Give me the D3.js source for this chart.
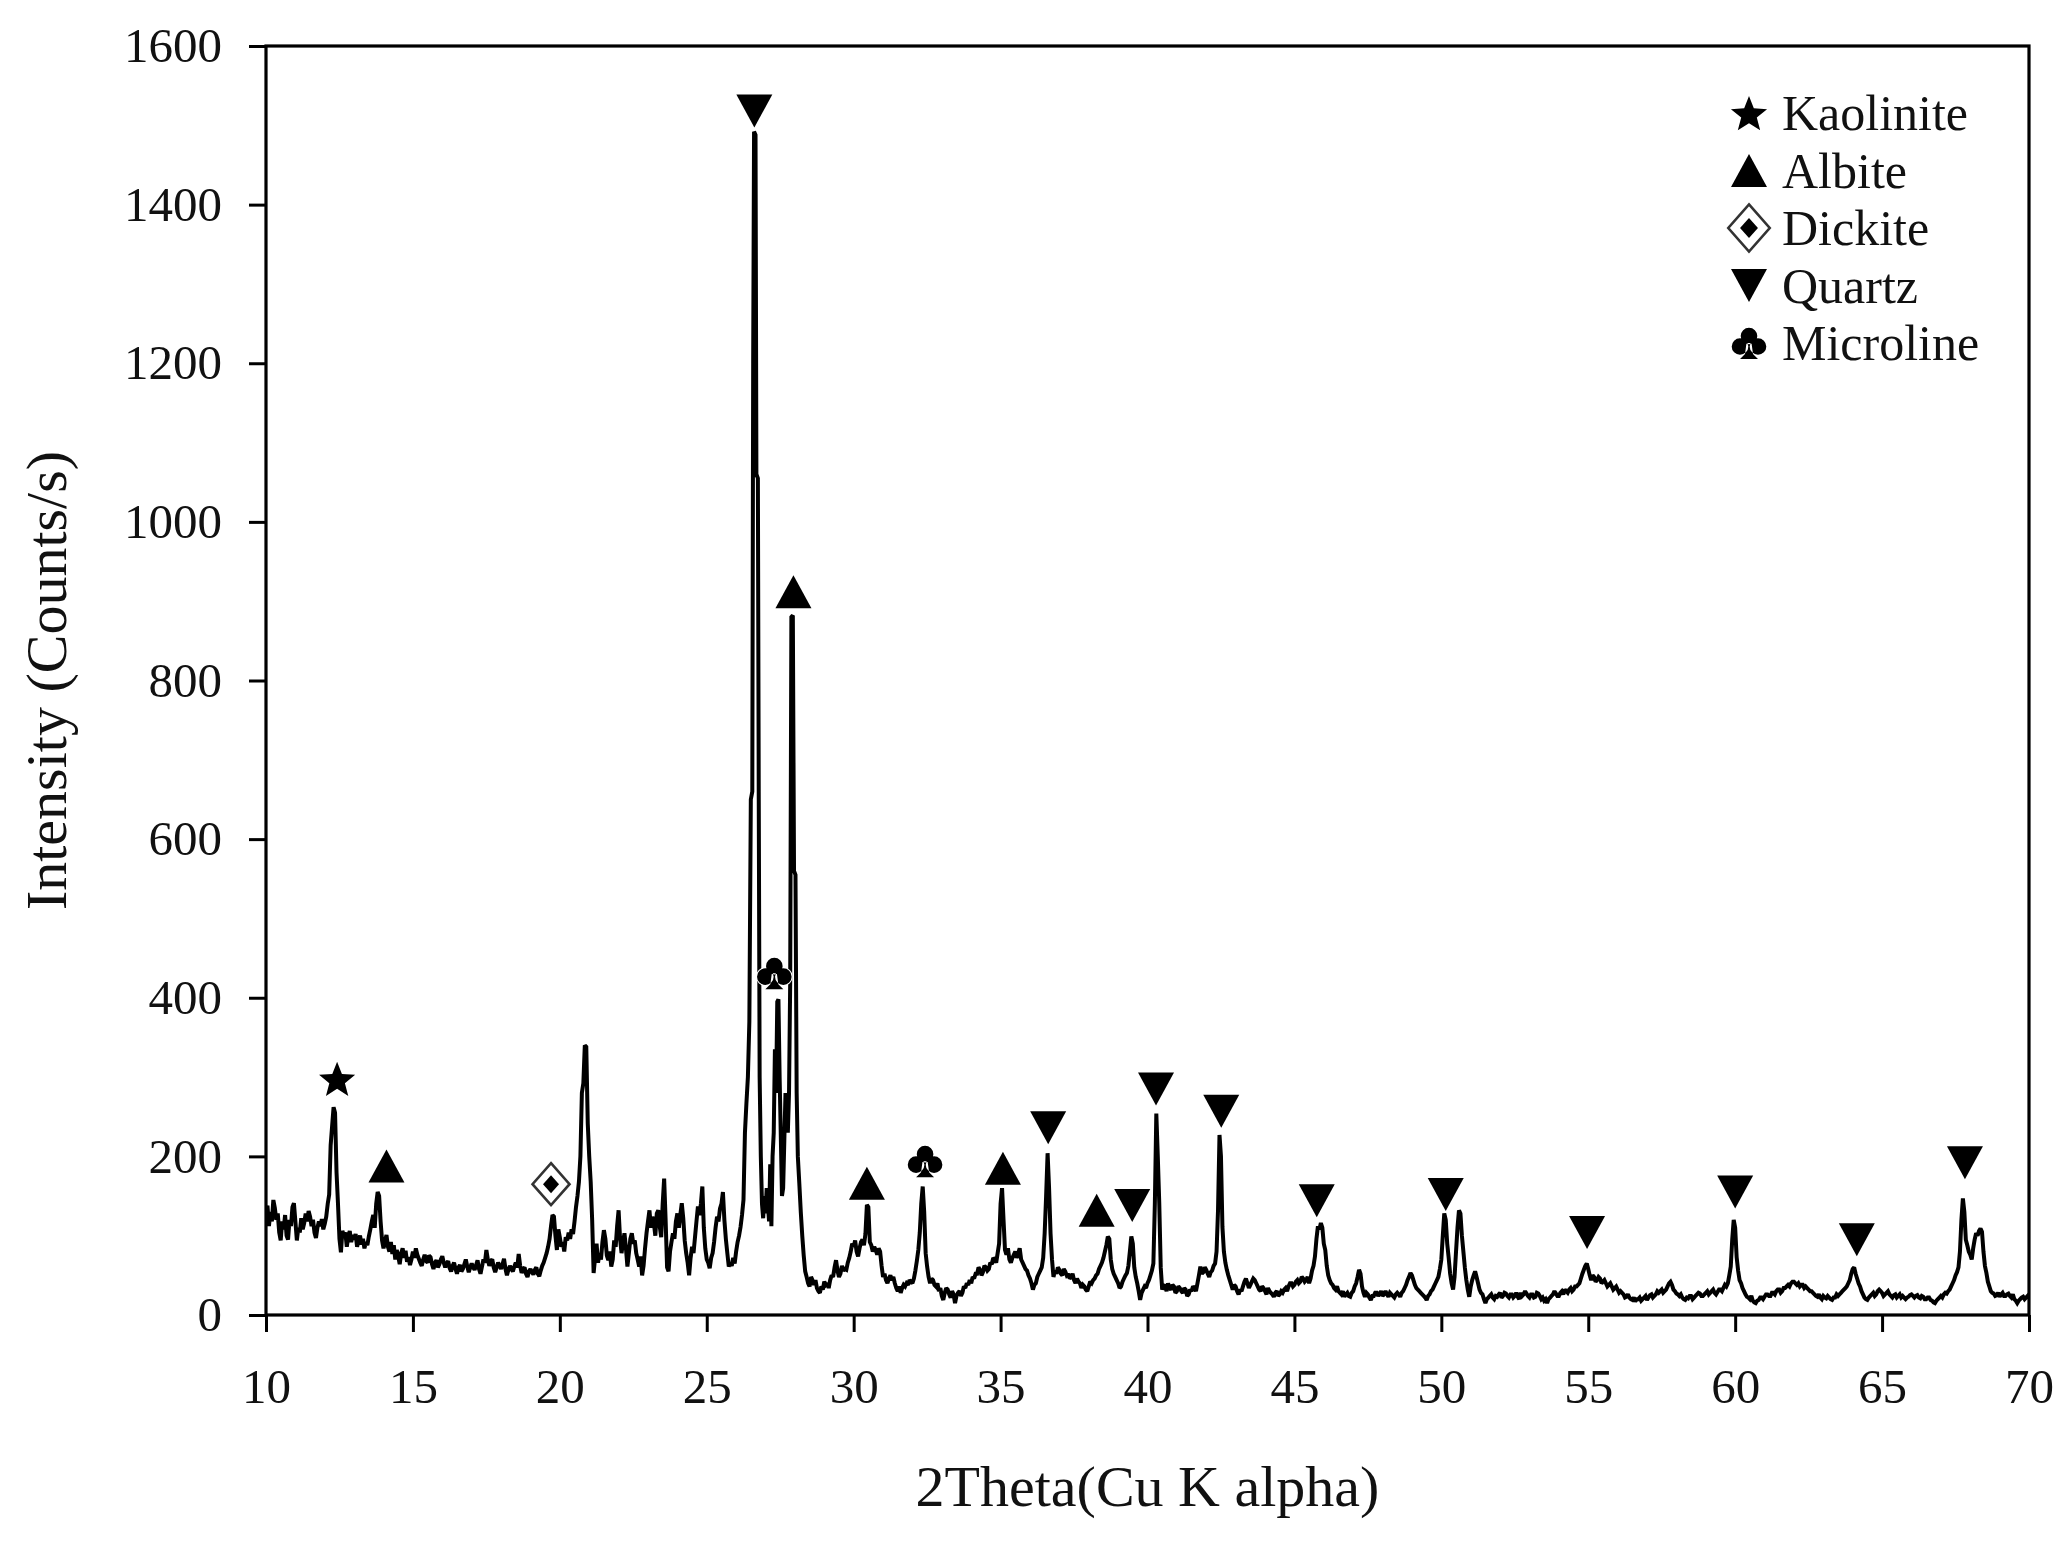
<!DOCTYPE html>
<html>
<head>
<meta charset="utf-8">
<script src="https://cdn.jsdelivr.net/npm/d3@7"></script>
<style>
  html, body { margin: 0; padding: 0; background: #fff; }
  svg { display: block; }
  text { font-family: "Liberation Serif", "Times New Roman", serif; fill: #111; }
</style>
</head>
<body>
<svg id="chart" width="2066" height="1546"></svg>
<script>
// ---------- DATA ----------
const xTicks = [10, 15, 20, 25, 30, 35, 40, 45, 50, 55, 60, 65, 70];
const yTicks = [0, 200, 400, 600, 800, 1000, 1200, 1400, 1600];
const xLabel = "2Theta(Cu K alpha)";
const yLabel = "Intensity (Counts/s)";

const phases = ["Kaolinite", "Albite", "Dickite", "Quartz", "Microline"];
const phaseSymbol = ["star", "triUp", "diamond", "triDown", "club"];

// [2theta, intensity]
const pattern = [
[10.00,125],[10.05,138],[10.10,112],[10.15,130],[10.20,118],[10.25,145],[10.30,135],[10.35,120],[10.40,128],[10.45,104],
[10.50,94],[10.55,118],[10.60,108],[10.65,126],[10.70,100],[10.75,95],[10.80,120],[10.85,112],[10.90,136],[10.95,141],
[11.00,118],[11.05,94],[11.10,110],[11.15,104],[11.20,122],[11.25,108],[11.30,116],[11.35,128],[11.40,118],[11.45,131],
[11.50,124],[11.55,112],[11.60,120],[11.65,104],[11.70,97],[11.75,110],[11.80,118],[11.85,112],[11.90,121],[11.95,108],
[12.00,115],[12.05,124],[12.10,140],[12.15,152],[12.20,214],[12.25,238],[12.30,262],[12.35,255],[12.40,180],[12.45,140],
[12.50,96],[12.55,79],[12.60,106],[12.65,100],[12.70,104],[12.75,86],[12.80,99],[12.85,106],[12.90,92],[12.95,101],
[13.00,95],[13.05,102],[13.10,86],[13.15,94],[13.20,100],[13.25,89],[13.30,96],[13.35,84],[13.40,92],[13.45,88],
[13.50,99],[13.55,108],[13.60,118],[13.65,126],[13.70,110],[13.75,140],[13.80,155],[13.85,150],[13.90,118],[13.95,94],
[14.00,84],[14.05,93],[14.10,101],[14.15,86],[14.20,80],[14.25,92],[14.30,77],[14.35,88],[14.40,70],[14.45,82],
[14.50,74],[14.55,64],[14.60,78],[14.65,84],[14.70,72],[14.75,81],[14.80,67],[14.85,73],[14.90,63],[14.95,70],
[15.00,80],[15.05,72],[15.10,84],[15.15,76],[15.20,71],[15.25,66],[15.30,62],[15.35,70],[15.40,76],[15.45,68],
[15.50,66],[15.55,75],[15.60,73],[15.65,64],[15.70,58],[15.75,66],[15.80,69],[15.85,60],[15.90,64],[15.95,70],
[16.00,74],[16.05,66],[16.10,60],[16.15,65],[16.20,68],[16.25,59],[16.30,55],[16.35,62],[16.40,66],[16.45,58],
[16.50,52],[16.55,60],[16.60,63],[16.65,55],[16.70,58],[16.75,64],[16.80,70],[16.85,61],[16.90,54],[16.95,60],
[17.00,65],[17.05,60],[17.10,57],[17.15,63],[17.20,69],[17.25,58],[17.30,52],[17.35,61],[17.40,70],[17.45,66],
[17.50,82],[17.55,70],[17.60,62],[17.65,68],[17.70,70],[17.75,60],[17.80,54],[17.85,60],[17.90,66],[17.95,62],
[18.00,58],[18.05,64],[18.10,71],[18.15,58],[18.20,50],[18.25,57],[18.30,62],[18.35,58],[18.40,55],[18.45,61],
[18.50,66],[18.55,60],[18.60,77],[18.65,62],[18.70,53],[18.75,58],[18.80,60],[18.85,52],[18.90,48],[18.95,55],
[19.00,58],[19.05,54],[19.10,51],[19.15,57],[19.20,60],[19.25,52],[19.30,49],[19.35,56],[19.40,62],[19.45,66],
[19.50,72],[19.55,78],[19.60,86],[19.65,96],[19.70,112],
[19.75,126],[19.80,124],[19.85,100],[19.90,82],[19.95,108],[20.00,98],[20.05,86],[20.10,92],[20.15,80],[20.20,98],
[20.25,94],[20.30,104],[20.35,96],[20.40,108],[20.45,102],[20.50,118],[20.55,136],[20.60,150],[20.65,168],[20.70,200],
[20.75,280],[20.80,292],[20.85,340],[20.90,338],[20.95,242],[21.00,200],[21.05,168],[21.10,120],[21.15,53],[21.20,72],
[21.25,90],[21.30,66],[21.35,78],[21.40,70],[21.45,92],[21.50,107],[21.55,96],[21.60,75],[21.65,69],[21.70,80],
[21.75,61],[21.80,70],[21.85,94],[21.90,86],[21.95,112],[22.00,132],[22.05,96],[22.10,78],[22.15,92],[22.20,103],
[22.25,84],[22.30,61],[22.35,78],[22.40,96],[22.45,103],[22.50,90],[22.55,94],[22.60,78],[22.65,70],[22.70,61],
[22.75,74],[22.80,50],[22.85,62],[22.90,84],[22.95,103],[23.00,118],[23.05,132],[23.10,110],[23.15,124],[23.20,116],
[23.25,100],[23.30,128],[23.35,132],[23.40,112],[23.45,98],[23.50,140],[23.55,172],[23.60,120],[23.65,60],[23.70,55],
[23.75,80],[23.80,92],[23.85,103],[23.90,96],[23.95,118],[24.00,128],[24.05,110],[24.10,126],[24.15,141],[24.20,122],
[24.25,94],[24.30,78],[24.35,66],[24.40,50],[24.45,72],[24.50,86],[24.55,78],[24.60,98],[24.65,118],[24.70,137],
[24.75,126],[24.80,140],[24.85,162],[24.90,110],[24.95,84],[25.00,70],[25.05,66],[25.10,59],[25.15,72],[25.20,78],
[25.25,92],[25.30,110],[25.35,124],[25.40,118],[25.45,134],[25.50,140],[25.55,155],[25.60,120],[25.65,96],[25.70,78],
[25.75,61],[25.80,66],[25.85,62],[25.90,72],[25.95,65],[26.00,80],[26.05,92],[26.10,100],[26.15,111],[26.20,126],
[26.25,145],[26.30,230],[26.35,267],[26.40,300],[26.45,370],[26.50,650],[26.55,660],[26.58,1200],[26.61,1492],[26.66,1488],
[26.69,1060],[26.74,1055],[26.77,650],[26.80,300],[26.84,200],[26.88,140],[26.92,122],[26.96,150],[27.00,128],[27.04,160],
[27.08,140],[27.12,118],[27.16,190],[27.20,112],[27.24,200],[27.28,230],[27.32,335],[27.36,280],[27.40,395],[27.44,398],
[27.48,300],[27.52,226],[27.56,150],[27.60,160],[27.64,220],[27.68,280],[27.72,270],[27.76,230],[27.80,280],[27.84,420],
[27.88,880],[27.93,882],[27.97,560],[28.02,555],[28.06,280],[28.10,200],[28.15,166],[28.20,130],[28.25,100],[28.30,75],
[28.35,55],[28.40,48],[28.45,40],[28.50,36],[28.55,48],[28.60,44],[28.65,38],[28.70,44],[28.75,34],[28.80,30],
[28.85,28],[28.90,36],[28.95,32],[29.00,42],[29.05,38],[29.10,40],[29.15,34],[29.20,44],[29.25,50],[29.30,48],
[29.35,60],[29.40,69],[29.45,56],[29.50,48],[29.55,52],[29.60,62],[29.65,56],[29.70,58],[29.75,57],[29.80,66],
[29.85,72],[29.90,80],[29.95,90],[30.00,86],[30.05,94],[30.10,80],[30.15,74],[30.20,84],[30.25,92],[30.30,95],
[30.35,88],[30.40,102],[30.45,139],[30.50,136],[30.55,92],[30.60,88],[30.65,80],[30.70,86],[30.75,82],[30.80,76],
[30.85,84],[30.90,80],[30.95,62],[31.00,48],[31.05,52],[31.10,44],[31.15,40],[31.20,46],[31.25,50],[31.30,44],
[31.35,48],[31.40,40],[31.45,34],[31.50,30],[31.55,36],[31.60,28],[31.65,34],[31.70,38],[31.75,36],[31.80,40],
[31.85,38],[31.90,44],[31.95,42],[32.00,40],[32.05,46],[32.10,56],[32.15,68],[32.20,82],[32.25,104],[32.30,140],
[32.35,162],[32.40,130],[32.45,78],[32.50,61],[32.55,48],[32.60,40],[32.65,46],[32.70,44],[32.75,38],[32.80,36],
[32.85,40],[32.90,30],[32.95,34],[33.00,24],
[33.05,19],[33.10,28],[33.15,34],[33.20,32],[33.25,26],[33.30,22],[33.35,30],[33.40,26],[33.45,15],[33.50,24],
[33.55,28],[33.60,30],[33.65,24],[33.70,28],[33.75,36],[33.80,34],[33.85,40],
[33.90,38],[33.95,44],[34.00,40],[34.05,48],[34.10,46],[34.15,52],[34.20,52],[34.25,60],[34.30,57],[34.35,50],[34.40,54],
[34.45,62],[34.50,60],[34.55,56],[34.60,58],[34.65,66],[34.70,64],[34.75,72],[34.80,70],
[34.85,66],[34.90,78],[34.95,90],[35.00,140],[35.05,160],[35.10,120],[35.15,82],[35.20,76],[35.25,84],[35.30,70],[35.35,66],[35.40,72],
[35.45,76],[35.50,80],[35.55,72],[35.60,78],[35.65,84],[35.70,70],[35.75,66],[35.80,62],[35.85,58],[35.90,56],[35.95,50],[36.00,46],
[36.05,40],[36.10,32],[36.15,38],[36.20,40],[36.25,48],[36.30,52],
[36.35,56],[36.40,60],[36.45,72],[36.50,103],[36.55,150],[36.60,204],[36.65,160],[36.70,103],[36.75,70],[36.80,48],[36.85,56],[36.90,52],
[36.95,60],[37.00,57],[37.05,52],[37.10,50],[37.15,58],[37.20,55],[37.25,50],[37.30,52],[37.35,46],[37.40,48],[37.45,52],[37.50,44],
[37.55,40],[37.60,46],[37.65,42],[37.70,40],[37.75,34],[37.80,38],[37.85,36],[37.90,32],
[37.95,30],[38.00,36],[38.05,42],[38.10,40],[38.15,44],[38.20,46],[38.25,50],[38.30,52],[38.35,58],[38.40,62],[38.45,66],[38.50,72],
[38.55,80],[38.60,88],[38.65,99],[38.70,96],[38.75,70],
[38.80,58],[38.85,52],[38.90,48],[38.95,44],[39.00,40],[39.05,34],[39.10,36],[39.15,42],[39.20,46],[39.25,50],[39.30,53],[39.35,62],[39.40,80],[39.45,99],[39.50,90],
[39.55,60],[39.60,48],[39.65,40],[39.70,30],[39.75,19],[39.80,28],[39.85,32],[39.90,36],[39.95,34],[40.00,40],[40.05,44],[40.10,50],[40.15,56],[40.20,65],[40.25,140],
[40.30,254],[40.35,200],[40.40,141],[40.45,60],[40.50,32],[40.55,38],[40.60,36],[40.65,30],[40.70,40],[40.75,34],[40.80,32],[40.85,38],[40.90,36],[40.95,28],[41.00,30],
[41.05,36],[41.10,34],[41.15,30],[41.20,28],[41.25,34],[41.30,32],[41.35,24],[41.40,26],[41.45,32],[41.50,30],[41.55,36],[41.60,34],[41.65,30],[41.70,40],[41.75,50],[41.80,61],[41.85,52],[41.90,54],[41.95,60],[42.00,57],
[42.05,52],[42.10,48],[42.15,54],[42.20,56],[42.25,62],[42.30,65],[42.35,80],[42.40,132],[42.45,227],[42.50,200],[42.55,111],[42.60,80],[42.65,66],[42.70,57],
[42.75,50],[42.80,44],[42.85,38],[42.90,32],[42.95,38],[43.00,36],[43.05,30],[43.10,26],[43.15,32],[43.20,30],[43.25,36],[43.30,42],[43.35,46],[43.40,40],[43.45,34],[43.50,38],[43.55,42],[43.60,46],[43.65,44],[43.70,40],
[43.75,36],[43.80,32],[43.85,30],[43.90,36],[43.95,34],[44.00,30],[44.05,26],[44.10,34],[44.15,30],[44.20,28],[44.25,26],[44.30,23],[44.35,28],[44.40,30],[44.45,24],[44.50,26],[44.55,30],[44.60,28],[44.65,32],[44.70,34],
[44.75,30],[44.80,36],[44.85,40],[44.90,40],[44.95,36],[45.00,38],[45.05,42],[45.10,44],[45.15,40],[45.20,42],[45.25,48],[45.30,46],[45.35,42],[45.40,44],[45.45,48],[45.50,40],[45.55,46],[45.60,56],[45.65,62],[45.70,74],
[45.75,96],[45.80,112],[45.85,108],[45.90,116],[45.95,110],[46.00,90],[46.05,82],[46.10,62],[46.15,50],[46.20,44],[46.25,40],[46.30,38],
[46.35,34],[46.40,32],[46.45,36],[46.50,30],[46.55,28],[46.60,26],[46.65,30],[46.70,23],[46.75,26],[46.80,28],[46.85,24],[46.90,23],[46.95,28],[47.00,30],[47.05,36],[47.10,40],[47.15,48],[47.20,57],[47.25,52],
[47.30,36],[47.35,28],[47.40,23],[47.45,28],[47.50,26],[47.55,22],[47.60,19],[47.65,24],[47.70,24],[47.75,28],[47.80,28],[47.85,24],[47.90,27],[47.95,30],[48.00,24],[48.05,26],[48.10,30],[48.15,26],[48.20,23],
[48.25,28],[48.30,26],[48.35,24],[48.40,22],[48.45,26],[48.50,28],[48.55,26],[48.60,23],[48.65,28],[48.70,30],[48.75,34],[48.80,38],[48.85,44],[48.90,48],[48.95,53],[49.00,50],[49.05,44],[49.10,38],
[49.15,34],[49.20,32],[49.25,30],[49.30,28],[49.35,26],[49.40,24],[49.45,22],[49.50,19],[49.55,24],[49.60,26],[49.65,30],[49.70,32],[49.75,36],[49.80,40],[49.85,44],[49.90,48],[49.95,58],[50.00,70],[50.05,100],
[50.10,128],[50.15,120],[50.20,90],[50.25,72],[50.30,52],[50.35,40],[50.40,32],[50.45,48],[50.50,80],[50.55,110],[50.60,132],
[50.65,128],[50.70,100],[50.75,80],[50.80,60],[50.85,44],[50.90,32],[50.95,23],[51.00,36],[51.05,44],[51.10,50],[51.15,55],[51.20,48],
[51.25,40],[51.30,32],[51.35,28],[51.40,26],[51.45,20],[51.50,15],[51.55,20],[51.60,22],[51.65,24],[51.70,26],[51.75,22],[51.80,20],[51.85,24],[51.90,23],[51.95,26],[52.00,28],[52.05,22],[52.10,24],[52.15,28],[52.20,27],
[52.25,24],[52.30,22],[52.35,26],[52.40,26],[52.45,22],[52.50,24],[52.55,28],[52.60,23],[52.65,20],[52.70,28],[52.75,24],[52.80,26],[52.85,30],[52.90,27],[52.95,24],[53.00,22],[53.05,26],[53.10,26],[53.15,22],[53.20,23],
[53.25,28],[53.30,27],[53.35,24],[53.40,20],[53.45,22],[53.50,18],[53.55,20],[53.60,15],[53.65,20],[53.70,22],[53.75,24],[53.80,26],[53.85,30],[53.90,27],[53.95,24],[54.00,24],[54.05,28],[54.10,30],[54.15,26],[54.20,32],
[54.25,30],[54.30,28],[54.35,32],[54.40,34],[54.45,30],[54.50,32],[54.55,36],[54.60,36],[54.65,38],[54.70,40],[54.75,46],[54.80,52],[54.85,57],[54.90,62],[54.95,65],[55.00,58],
[55.05,50],[55.10,44],[55.15,50],[55.20,48],[55.25,42],[55.30,44],[55.35,48],[55.40,46],[55.45,40],[55.50,42],[55.55,44],[55.60,40],[55.65,36],[55.70,38],[55.75,40],[55.80,36],[55.85,32],[55.90,34],[55.95,36],[56.00,32],
[56.05,28],[56.10,30],[56.15,28],[56.20,26],[56.25,22],[56.30,23],[56.35,26],[56.40,22],[56.45,20],[56.50,19],[56.55,22],[56.60,17],[56.65,20],[56.70,20],[56.75,22],[56.80,18],[56.85,20],[56.90,22],[56.95,24],[57.00,19],
[57.05,22],[57.10,25],[57.15,26],[57.20,22],[57.25,24],[57.30,26],[57.35,30],[57.40,28],[57.45,30],[57.50,32],[57.55,28],[57.60,30],[57.65,32],[57.70,36],[57.75,40],[57.80,42],[57.85,38],[57.90,32],
[57.95,30],[58.00,27],[58.05,26],[58.10,24],[58.15,26],[58.20,22],[58.25,20],[58.30,19],[58.35,22],[58.40,21],[58.45,24],[58.50,24],[58.55,20],[58.60,22],[58.65,24],[58.70,26],[58.75,28],[58.80,27],[58.85,24],[58.90,24],
[58.95,26],[59.00,28],[59.05,30],[59.10,26],[59.15,28],[59.20,30],[59.25,32],[59.30,28],[59.35,26],[59.40,29],[59.45,32],[59.50,32],[59.55,30],[59.60,34],[59.65,38],[59.70,36],[59.75,40],[59.80,50],
[59.85,61],[59.90,95],[59.95,120],[60.00,110],[60.05,73],[60.10,56],[60.15,44],[60.20,40],[60.25,34],[60.30,30],[60.35,26],[60.40,23],
[60.45,22],[60.50,20],[60.55,24],[60.60,18],[60.65,16],[60.70,15],[60.75,18],[60.80,19],[60.85,22],[60.90,22],[60.95,20],[61.00,23],[61.05,26],[61.10,26],[61.15,24],[61.20,24],[61.25,28],[61.30,28],[61.35,26],[61.40,30],
[61.45,32],[61.50,32],[61.55,28],[61.60,30],[61.65,34],[61.70,34],[61.75,36],[61.80,38],[61.85,36],[61.90,40],[61.95,42],[62.00,42],[62.05,40],[62.10,38],[62.15,40],[62.20,36],[62.25,38],[62.30,38],[62.35,34],[62.40,36],
[62.45,34],[62.50,32],[62.55,30],[62.60,30],[62.65,28],[62.70,26],[62.75,24],[62.80,23],[62.85,26],[62.90,22],[62.95,20],[63.00,24],[63.05,22],[63.10,21],[63.15,24],[63.20,22],[63.25,20],[63.30,19],[63.35,22],[63.40,22],
[63.45,26],[63.50,24],[63.55,26],[63.60,28],[63.65,30],[63.70,32],[63.75,34],[63.80,36],[63.85,40],[63.90,44],[63.95,52],[64.00,58],[64.05,60],[64.10,52],[64.15,46],[64.20,40],
[64.25,36],[64.30,30],[64.35,26],[64.40,22],[64.45,20],[64.50,19],[64.55,22],[64.60,24],[64.65,26],[64.70,28],[64.75,24],[64.80,26],[64.85,30],[64.90,32],[64.95,30],[65.00,28],[65.05,24],[65.10,26],
[65.15,28],[65.20,30],[65.25,26],[65.30,24],[65.35,22],[65.40,25],[65.45,26],[65.50,22],[65.55,24],[65.60,26],[65.65,22],[65.70,24],[65.75,22],[65.80,20],[65.85,22],[65.90,23],[65.95,25],[66.00,26],[66.05,24],[66.10,22],
[66.15,24],[66.20,25],[66.25,22],[66.30,21],[66.35,24],[66.40,23],[66.45,20],[66.50,20],[66.55,22],[66.60,22],[66.65,19],[66.70,18],[66.75,16],[66.80,15],[66.85,18],[66.90,20],[66.95,22],[67.00,24],[67.05,22],[67.10,26],
[67.15,28],[67.20,27],[67.25,30],[67.30,32],[67.35,36],[67.40,40],[67.45,44],[67.50,50],[67.55,54],[67.60,60],[67.65,80],[67.70,120],[67.75,147],[67.80,130],[67.85,95],
[67.90,88],[67.95,80],[68.00,76],[68.05,70],[68.10,84],[68.15,95],[68.20,103],[68.25,100],[68.30,106],[68.35,109],
[68.40,105],[68.45,80],[68.50,62],[68.55,53],[68.60,42],[68.65,36],[68.70,30],[68.75,28],[68.80,27],[68.85,24],[68.90,25],[68.95,28],[69.00,23],[69.05,26],[69.10,28],
[69.15,24],[69.20,24],[69.25,26],[69.30,27],[69.35,24],[69.40,22],[69.45,26],[69.50,20],[69.55,18],[69.60,15],[69.65,18],[69.70,20],[69.75,22],[69.80,23],[69.85,20],[69.90,22],[69.95,24],[70.00,21]
];

// phase markers: phase index, 2theta, intensity of marker centre
const markerPhase = [0, 1, 2, 3, 1, 4, 1, 4, 1, 3, 1, 3, 3, 3, 3, 3, 3, 3, 3, 3];
const markerTheta = [12.42, 14.10, 19.70, 26.62, 27.95, 27.30, 30.45, 32.43, 35.08, 36.62, 38.27, 39.48, 40.29, 42.51, 45.76, 50.15, 54.96, 60.00, 64.14, 67.82];
const markerCounts = [298, 188, 165, 1518, 912, 431, 166, 194, 185, 236, 132, 138, 285, 257, 144, 152, 104, 155, 95, 192];

// ---------- LAYOUT ----------
const plot = { left: 266, right: 2029, top: 46, bottom: 1315 };
const tickLen = 17;

const svg = d3.select("#chart");
const x = d3.scaleLinear().domain([10, 70]).range([plot.left, plot.right]);
const y = d3.scaleLinear().domain([0, 1600]).range([plot.bottom, plot.top]);

function symbolPath(kind) {
  if (kind === "triUp") {
    const w = 36, h = 33;
    return `M0,${-h/2}L${w/2},${h/2}L${-w/2},${h/2}Z`;
  }
  if (kind === "triDown") {
    const w = 36, h = 33;
    return `M0,${h/2}L${w/2},${-h/2}L${-w/2},${-h/2}Z`;
  }
  if (kind === "star") {
    const R = 19, r = 8.2;
    let p = "";
    for (let i = 0; i < 10; i++) {
      const a = -Math.PI / 2 + i * Math.PI / 5;
      const rad = i % 2 === 0 ? R : r;
      p += (i === 0 ? "M" : "L") + (rad * Math.cos(a)).toFixed(2) + "," + (rad * Math.sin(a) + 2).toFixed(2);
    }
    return p + "Z";
  }
  if (kind === "club") {
    const c = 8.3;
    const circ = (cx, cy) => `M${cx - c},${cy}a${c},${c} 0 1,0 ${2*c},0a${c},${c} 0 1,0 ${-2*c},0`;
    return circ(0, -7) + circ(-9, 3.5) + circ(9, 3.5) + "M-2.5,0L2.5,0L4,11L9,16L-9,16L-4,11Z";
  }
  return "";
}

function drawSymbol(g, kind, big) {
  if (kind === "diamond") {
    const s = big ? 1.12 : 1;
    g.append("path")
      .attr("d", `M0,${-21*s}L${18.5*s},0L0,${21*s}L${-18.5*s},0Z`)
      .attr("fill", "#fff").attr("stroke", "#333").attr("stroke-width", 2.6);
    g.append("path")
      .attr("d", `M0,${-9*s}L${8*s},0L0,${9*s}L${-8*s},0Z`)
      .attr("fill", "#000");
  } else {
    g.append("path")
      .attr("d", symbolPath(kind))
      .attr("fill", "#000")
      .attr("stroke", "#fff").attr("stroke-width", 2)
      .attr("paint-order", "stroke");
  }
}

svg.append("defs").append("clipPath").attr("id", "clip")
  .append("rect")
  .attr("x", plot.left).attr("y", plot.top)
  .attr("width", plot.right - plot.left).attr("height", plot.bottom - plot.top);

const line = d3.line().x(d => x(d[0])).y(d => y(d[1]));
svg.append("path")
  .datum(pattern)
  .attr("clip-path", "url(#clip)")
  .attr("d", line)
  .attr("fill", "none")
  .attr("stroke", "#000")
  .attr("stroke-width", 4)
  .attr("stroke-linejoin", "miter")
  .attr("stroke-miterlimit", 2);

markerTheta.forEach((t, i) => {
  const g = svg.append("g").attr("transform", `translate(${x(t)},${y(markerCounts[i])})`);
  drawSymbol(g, phaseSymbol[markerPhase[i]], false);
});

const xAxis = d3.axisBottom(x).tickValues(xTicks).tickFormat(d3.format("d"))
  .tickSize(tickLen).tickSizeOuter(0).tickPadding(36);
const yAxis = d3.axisLeft(y).tickValues(yTicks).tickFormat(d3.format("d"))
  .tickSize(tickLen).tickSizeOuter(0).tickPadding(27);

const gx = svg.append("g").attr("transform", `translate(0,${plot.bottom})`).call(xAxis);
const gy = svg.append("g").attr("transform", `translate(${plot.left},0)`).call(yAxis);
[gx, gy].forEach(g => {
  g.select(".domain").remove();
  g.selectAll(".tick line").attr("stroke", "#000").attr("stroke-width", 3);
  g.selectAll(".tick text")
    .attr("font-family", "'Liberation Serif', 'Times New Roman', serif")
    .attr("font-size", 49).attr("fill", "#111");
});

svg.append("rect")
  .attr("x", plot.left).attr("y", plot.top)
  .attr("width", plot.right - plot.left).attr("height", plot.bottom - plot.top)
  .attr("fill", "none").attr("stroke", "#000").attr("stroke-width", 3.2);

svg.append("text")
  .attr("x", (plot.left + plot.right) / 2).attr("y", 1506)
  .attr("text-anchor", "middle").attr("font-size", 58)
  .text(xLabel);
svg.append("text")
  .attr("transform", `translate(66,${(plot.top + plot.bottom) / 2}) rotate(-90)`)
  .attr("text-anchor", "middle").attr("font-size", 58)
  .text(yLabel);

const legend = svg.append("g").attr("transform", "translate(1749,0)");
phases.forEach((name, i) => {
  const base = 130 + i * 57.5;
  const g = legend.append("g").attr("transform", `translate(0,${base - 17})`);
  drawSymbol(g, phaseSymbol[i], true);
  legend.append("text")
    .attr("x", 33).attr("y", base)
    .attr("font-size", 50)
    .text(name);
});
</script>
</body>
</html>
